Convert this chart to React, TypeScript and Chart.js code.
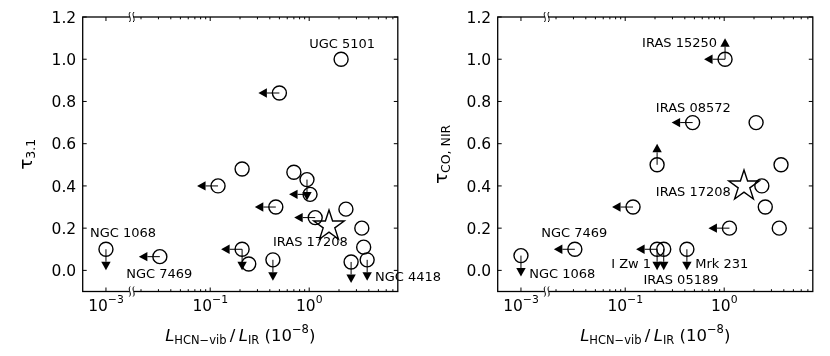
import React, { useEffect, useRef } from "react";
import { Chart, registerables } from "chart.js";
Chart.register(...registerables);

// ---------------- data ----------------
// x: L_HCN-vib / L_IR (1e-8), y: optical depth
// xLimit: 1 = upper limit in x (arrow to the left)
// yLimit: -1 = upper limit (arrow down), 1 = lower limit (arrow up)

// Left panel: tau_3.1
const leftX = [2.1, 0.5, 0.21, 0.7, 0.95, 1.02, 0.12, 0.46, 1.15, 2.35, 3.4, 3.55, 3.85, 2.65, 0.43, 0.21, 0.245, 0.031, 0.001];
const leftY = [1.0, 0.84, 0.48, 0.465, 0.43, 0.36, 0.4, 0.3, 0.25, 0.29, 0.2, 0.11, 0.05, 0.04, 0.05, 0.1, 0.03, 0.065, 0.1];
const leftXLimit = [0, 1, 0, 0, 0, 1, 1, 1, 1, 0, 0, 0, 0, 0, 0, 1, 0, 1, 0];
const leftYLimit = [0, 0, 0, 0, -1, 0, 0, 0, 0, 0, 0, 0, -1, -1, -1, -1, 0, 0, -1];
const leftStarX = [1.57];
const leftStarY = [0.21];
const leftLabels = ["UGC 5101", "NGC 1068", "NGC 7469", "IRAS 17208", "NGC 4418"];
const leftLabelX = [1.0, 0.00069, 0.0016, 0.43, 4.62];
const leftLabelY = [1.07, 0.174, -0.019, 0.133, -0.036];

// Right panel: tau_CO,NIR
const rightX = [1.02, 0.48, 2.1, 0.21, 3.75, 2.4, 2.6, 3.6, 1.13, 0.12, 0.031, 0.001, 0.21, 0.245, 0.42];
const rightY = [1.0, 0.7, 0.7, 0.5, 0.5, 0.4, 0.3, 0.2, 0.2, 0.3, 0.1, 0.07, 0.1, 0.1, 0.1];
const rightXLimit = [1, 1, 0, 0, 0, 0, 0, 0, 1, 1, 1, 0, 1, 0, 0];
const rightYLimit = [1, 0, 0, 1, 0, 0, 0, 0, 0, 0, 0, -1, -1, -1, -1];
const rightStarX = [1.57];
const rightStarY = [0.4];
const rightLabels = ["IRAS 15250", "IRAS 08572", "IRAS 17208", "NGC 7469", "NGC 1068", "I Zw 1", "IRAS 05189", "Mrk 231"];
const rightLabelX = [0.148, 0.204, 0.204, 0.0016, 0.00121, 0.0722, 0.153, 0.509];
const rightLabelY = [1.072, 0.767, 0.368, 0.172, -0.02, 0.027, -0.047, 0.027];

// axes
const xMajorTicks = [0.001, 0.1, 1];
const xMajorExp = ["\u22123", "\u22121", "0"];
const xMinorTicks = [0.02, 0.03, 0.04, 0.05, 0.06, 0.07, 0.08, 0.09, 0.2, 0.3, 0.4, 0.5, 0.6, 0.7, 0.8, 0.9, 2, 3, 4, 5, 6, 7, 8, 9];
const yTicks = [0, 0.2, 0.4, 0.6, 0.8, 1.0, 1.2];
const yTickLabels = ["0.0", "0.2", "0.4", "0.6", "0.8", "1.0", "1.2"];
const Y_MIN = -0.1;
const Y_MAX = 1.2;
// broken log axis (axis units = log10 value, values below the break shifted)
const X_MIN = -2.288;
const X_MAX = 0.895;
const X_BREAK = -1.793;
const BREAK_VALUE = 0.0125;
const BREAK_SHIFT = 0.947;

const toAxis = (v: number) => (v < BREAK_VALUE ? Math.log10(v) + BREAK_SHIFT : Math.log10(v));

const FONT = "'DejaVu Sans', sans-serif";
const TICK_PX = 15.5;
const SUP_PX = 10.8;
const TITLE_PX = 16.5;
const SUB_PX = 11.5;

type Seg = [string, string, number];

function richText(ctx: CanvasRenderingContext2D, segs: Seg[], x: number, y: number) {
  let total = 0;
  const widths = segs.map(([t, f]) => {
    ctx.font = f;
    const w = ctx.measureText(t).width;
    total += w;
    return w;
  });
  let cx = x - total / 2;
  ctx.textAlign = "left";
  ctx.textBaseline = "alphabetic";
  segs.forEach(([t, f, dy], i) => {
    ctx.font = f;
    ctx.fillText(t, cx, y + dy);
    cx += widths[i];
  });
}

function makeStar() {
  const c = document.createElement("canvas");
  c.width = 40;
  c.height = 40;
  const g = c.getContext("2d")!;
  g.beginPath();
  for (let k = 0; k < 10; k++) {
    const r = k % 2 === 0 ? 16 : 16 * 0.382;
    const a = -Math.PI / 2 + (k * Math.PI) / 5;
    const px = 20 + r * Math.cos(a);
    const py = 20 + r * Math.sin(a);
    if (k === 0) g.moveTo(px, py);
    else g.lineTo(px, py);
  }
  g.closePath();
  g.lineWidth = 1.4;
  g.lineJoin = "miter";
  g.strokeStyle = "#000";
  g.stroke();
  return c;
}

function arrow(ctx: CanvasRenderingContext2D, x: number, y: number, dx: number, dy: number) {
  const L = 21, H = 8.5, W = 4.7;
  const bx = x + dx * (L - H), by = y + dy * (L - H);
  const tx = x + dx * L, ty = y + dy * L;
  ctx.beginPath();
  ctx.moveTo(x, y);
  ctx.lineTo(bx, by);
  ctx.stroke();
  ctx.beginPath();
  ctx.moveTo(tx, ty);
  ctx.lineTo(bx - dy * W, by + dx * W);
  ctx.lineTo(bx + dy * W, by - dx * W);
  ctx.closePath();
  ctx.fill();
}

interface Panel {
  xs: number[]; ys: number[]; xl: number[]; yl: number[];
  sx: number[]; sy: number[];
  labels: string[]; lx: number[]; ly: number[];
  ySub: string; width: number;
}

const leftPanel: Panel = {
  xs: leftX, ys: leftY, xl: leftXLimit, yl: leftYLimit, sx: leftStarX, sy: leftStarY,
  labels: leftLabels, lx: leftLabelX, ly: leftLabelY, ySub: "3.1", width: 460,
};
const rightPanel: Panel = {
  xs: rightX, ys: rightY, xl: rightXLimit, yl: rightYLimit, sx: rightStarX, sy: rightStarY,
  labels: rightLabels, lx: rightLabelX, ly: rightLabelY, ySub: "CO, NIR", width: 415,
};

function makeChart(canvas: HTMLCanvasElement, p: Panel) {
  const star = makeStar();
  const decor = {
    id: "decor",
    beforeDatasetsDraw(chart: any) {
      const ctx = chart.ctx as CanvasRenderingContext2D;
      ctx.imageSmoothingEnabled = false;
      const sx = chart.scales.x, sy = chart.scales.y;
      ctx.save();
      ctx.strokeStyle = "#000";
      ctx.fillStyle = "#000";
      ctx.lineWidth = 1;
      p.xs.forEach((v, i) => {
        const px = sx.getPixelForValue(toAxis(v));
        const py = sy.getPixelForValue(p.ys[i]);
        if (p.xl[i]) arrow(ctx, px, py, -1, 0);
        if (p.yl[i] === -1) arrow(ctx, px, py, 0, 1);
        if (p.yl[i] === 1) arrow(ctx, px, py, 0, -1);
      });
      ctx.restore();
    },
    afterDraw(chart: any) {
      const ctx = chart.ctx as CanvasRenderingContext2D;
      const sx = chart.scales.x, sy = chart.scales.y;
      const { left, right, top, bottom } = chart.chartArea;
      ctx.save();
      ctx.strokeStyle = "#000";
      ctx.fillStyle = "#000";
      // frame
      ctx.lineWidth = 1.3;
      ctx.strokeRect(left, top, right - left, bottom - top);
      // ticks
      ctx.lineWidth = 1;
      const tick = (x1: number, y1: number, x2: number, y2: number) => {
        ctx.beginPath();
        ctx.moveTo(x1, y1);
        ctx.lineTo(x2, y2);
        ctx.stroke();
      };
      xMajorTicks.forEach((v) => {
        const px = sx.getPixelForValue(toAxis(v));
        tick(px, bottom, px, bottom - 4);
        tick(px, top, px, top + 4);
      });
      xMinorTicks.forEach((v) => {
        const a = toAxis(v);
        if (a <= X_BREAK || a >= X_MAX) return;
        const px = sx.getPixelForValue(a);
        tick(px, bottom, px, bottom - 2.3);
        tick(px, top, px, top + 2.3);
      });
      yTicks.forEach((v) => {
        const py = sy.getPixelForValue(v);
        tick(left, py, left + 4, py);
        tick(right, py, right - 4, py);
      });
      // axis break marks
      const bx = sx.getPixelForValue(X_BREAK);
      [top, bottom].forEach((yy) => {
        ctx.fillStyle = "#fff";
        ctx.fillRect(bx - 2, yy - 1.5, 4, 3);
        ctx.fillStyle = "#000";
        [-1.9, 1.9].forEach((o) => {
          ctx.beginPath();
          ctx.moveTo(bx + o - 0.4, yy + 5);
          ctx.bezierCurveTo(bx + o + 2.6, yy + 1.8, bx + o - 2.6, yy - 1.8, bx + o + 0.4, yy - 5);
          ctx.stroke();
        });
      });
      // tick labels
      ctx.fillStyle = "#000";
      xMajorTicks.forEach((v, i) => {
        const px = sx.getPixelForValue(toAxis(v));
        richText(ctx, [
          ["10", `${TICK_PX}px ${FONT}`, 0],
          [xMajorExp[i], `${SUP_PX}px ${FONT}`, -7.5],
        ], px, bottom + 19.2);
      });
      ctx.font = `${TICK_PX}px ${FONT}`;
      ctx.textAlign = "right";
      ctx.textBaseline = "alphabetic";
      yTicks.forEach((v, i) => {
        const py = sy.getPixelForValue(v);
        ctx.fillText(yTickLabels[i], left - 6.5, py + 5.6);
      });
      // x title
      richText(ctx, [
        ["L", `italic ${TITLE_PX}px ${FONT}`, 0],
        ["HCN\u2212vib", `${SUB_PX}px ${FONT}`, 3],
        ["\u2009/\u2009", `${TITLE_PX}px ${FONT}`, 0],
        ["L", `italic ${TITLE_PX}px ${FONT}`, 0],
        ["IR", `${SUB_PX}px ${FONT}`, 3],
        [" (10", `${TITLE_PX}px ${FONT}`, 0],
        ["\u22128", `${SUB_PX}px ${FONT}`, -8],
        [")", `${TITLE_PX}px ${FONT}`, 0],
      ], (left + right) / 2, bottom + 49);
      // y title
      ctx.save();
      ctx.translate(32, (top + bottom) / 2);
      ctx.rotate(-Math.PI / 2);
      richText(ctx, [
        ["\u03c4", `${TITLE_PX + 1.5}px ${FONT}`, 0],
        [p.ySub, `${SUB_PX + 1}px ${FONT}`, 3],
      ], 0, 0);
      ctx.restore();
      // annotations
      ctx.font = `13px ${FONT}`;
      ctx.textAlign = "left";
      ctx.textBaseline = "middle";
      p.labels.forEach((t, i) => {
        ctx.fillText(t, sx.getPixelForValue(toAxis(p.lx[i])), sy.getPixelForValue(p.ly[i]));
      });
      ctx.restore();
    },
  };

  return new Chart(canvas, {
    type: "scatter",
    data: {
      datasets: [
        {
          data: p.xs.map((v, i) => ({ x: toAxis(v), y: p.ys[i] })),
          pointStyle: "circle",
          pointRadius: 7,
          pointHoverRadius: 7,
          borderColor: "#000",
          borderWidth: 1.4,
          backgroundColor: "rgba(0,0,0,0)",
          clip: false,
        },
        {
          data: p.sx.map((v, i) => ({ x: toAxis(v), y: p.sy[i] })),
          pointStyle: star,
          pointRadius: 16,
          clip: false,
        },
      ],
    } as any,
    options: {
      animation: false,
      responsive: false,
      maintainAspectRatio: false,
      devicePixelRatio: 1,
      events: [],
      layout: { padding: { left: 0, top: 14.5, right: p.width - 397.8, bottom: 0 } },
      scales: {
        x: {
          type: "linear",
          min: X_MIN,
          max: X_MAX,
          grid: { display: false },
          border: { display: false },
          ticks: { display: false },
          afterFit: (s: any) => { s.height = 356 - 291.5; },
        },
        y: {
          type: "linear",
          min: Y_MIN,
          max: Y_MAX,
          grid: { display: false },
          border: { display: false },
          ticks: { display: false },
          afterFit: (s: any) => { s.width = 82.7; },
        },
      },
      plugins: { legend: { display: false }, tooltip: { enabled: false } },
    } as any,
    plugins: [decor],
  });
}

export default function App() {
  const leftRef = useRef<HTMLCanvasElement>(null);
  const rightRef = useRef<HTMLCanvasElement>(null);
  useEffect(() => {
    const c1 = makeChart(leftRef.current!, leftPanel);
    const c2 = makeChart(rightRef.current!, rightPanel);
    return () => {
      c1.destroy();
      c2.destroy();
    };
  }, []);
  return (
    <div style={{ position: "absolute", left: 0, top: 0, width: 830, height: 356, background: "#fff", overflow: "hidden" }}>
      <canvas ref={leftRef} width={460} height={356} style={{ position: "absolute", left: 0, top: 0, width: 460, height: 356 }} />
      <canvas ref={rightRef} width={415} height={356} style={{ position: "absolute", left: 415, top: 0, width: 415, height: 356 }} />
    </div>
  );
}
